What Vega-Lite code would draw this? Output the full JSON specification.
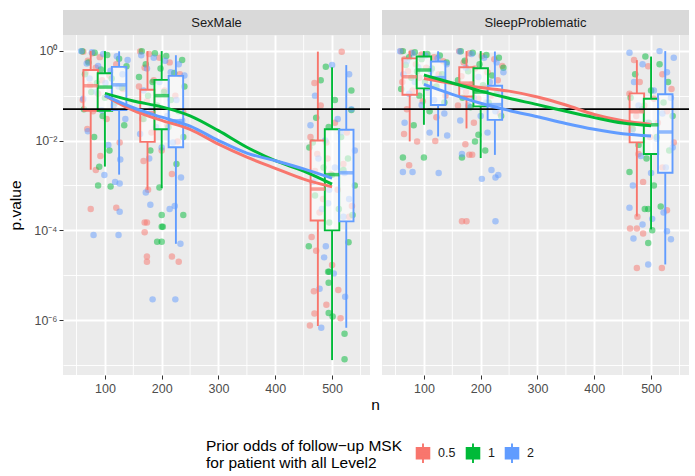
{
"$schema": "https://vega.github.io/schema/vega-lite/v6.json",
"padding": {"left": 8, "top": 10, "right": 5, "bottom": 5},
"background": "#FFFFFF",
"config": {"font": "Liberation Sans", "view": {"stroke": null}},
"datasets": {
"gridX": [{"v":50},{"v":150},{"v":250},{"v":350},{"v":450},{"v":550}],
"ptsSex": [
{"odds":"0.5","n":62,"p":0.95},{"odds":"0.5","n":78,"p":0.88},{"odds":"0.5","n":91,"p":0.72},{"odds":"0.5","n":70,"p":0.6},{"odds":"0.5","n":120,"p":0.5},{"odds":"0.5","n":84,"p":0.42},{"odds":"0.5","n":66,"p":0.33},{"odds":"0.5","n":108,"p":0.28},{"odds":"0.5","n":95,"p":0.22},{"odds":"0.5","n":74,"p":0.17},{"odds":"0.5","n":132,"p":0.14},{"odds":"0.5","n":88,"p":0.11},{"odds":"0.5","n":61,"p":0.08},{"odds":"0.5","n":115,"p":0.06},{"odds":"0.5","n":79,"p":0.045},{"odds":"0.5","n":103,"p":0.03},{"odds":"0.5","n":69,"p":0.018},{"odds":"0.5","n":126,"p":0.009},{"odds":"0.5","n":92,"p":0.0045},{"odds":"0.5","n":84,"p":0.0022},{"odds":"0.5","n":75,"p":0.0003},{"odds":"0.5","n":120,"p":0.00032},
{"odds":"1","n":60,"p":0.97},{"odds":"1","n":82,"p":0.9},{"odds":"1","n":104,"p":0.8},{"odds":"1","n":125,"p":0.66},{"odds":"1","n":71,"p":0.55},{"odds":"1","n":138,"p":0.45},{"odds":"1","n":93,"p":0.38},{"odds":"1","n":65,"p":0.3},{"odds":"1","n":112,"p":0.24},{"odds":"1","n":86,"p":0.19},{"odds":"1","n":130,"p":0.15},{"odds":"1","n":76,"p":0.12},{"odds":"1","n":100,"p":0.09},{"odds":"1","n":118,"p":0.07},{"odds":"1","n":63,"p":0.05},{"odds":"1","n":96,"p":0.035},{"odds":"1","n":134,"p":0.022},{"odds":"1","n":81,"p":0.012},{"odds":"1","n":108,"p":0.006},{"odds":"1","n":90,"p":0.0026},{"odds":"1","n":88,"p":0.001},{"odds":"1","n":110,"p":0.00095},
{"odds":"2","n":58,"p":0.98},{"odds":"2","n":77,"p":0.92},{"odds":"2","n":97,"p":0.85},{"odds":"2","n":121,"p":0.75},{"odds":"2","n":140,"p":0.62},{"odds":"2","n":68,"p":0.52},{"odds":"2","n":88,"p":0.46},{"odds":"2","n":110,"p":0.36},{"odds":"2","n":131,"p":0.3},{"odds":"2","n":73,"p":0.24},{"odds":"2","n":101,"p":0.19},{"odds":"2","n":124,"p":0.16},{"odds":"2","n":85,"p":0.12},{"odds":"2","n":62,"p":0.085},{"odds":"2","n":116,"p":0.062},{"odds":"2","n":94,"p":0.047},{"odds":"2","n":136,"p":0.03},{"odds":"2","n":70,"p":0.016},{"odds":"2","n":106,"p":0.008},{"odds":"2","n":127,"p":0.0038},{"odds":"2","n":99,"p":0.0017},{"odds":"2","n":118,"p":0.0012},{"odds":"2","n":126,"p":0.0011},{"odds":"2","n":80,"p":0.000079},{"odds":"2","n":124,"p":0.000079},{"odds":"2","n":126,"p":0.00026},
{"odds":"0.5","n":162,"p":0.96},{"odds":"0.5","n":178,"p":0.85},{"odds":"0.5","n":196,"p":0.7},{"odds":"0.5","n":214,"p":0.55},{"odds":"0.5","n":170,"p":0.42},{"odds":"0.5","n":232,"p":0.3},{"odds":"0.5","n":186,"p":0.22},{"odds":"0.5","n":160,"p":0.16},{"odds":"0.5","n":205,"p":0.13},{"odds":"0.5","n":224,"p":0.1},{"odds":"0.5","n":174,"p":0.075},{"odds":"0.5","n":192,"p":0.055},{"odds":"0.5","n":238,"p":0.042},{"odds":"0.5","n":166,"p":0.03},{"odds":"0.5","n":210,"p":0.022},{"odds":"0.5","n":182,"p":0.015},{"odds":"0.5","n":228,"p":0.0095},{"odds":"0.5","n":200,"p":0.006},{"odds":"0.5","n":168,"p":0.0035},{"odds":"0.5","n":218,"p":0.0018},{"odds":"0.5","n":176,"p":0.0008},{"odds":"0.5","n":170,"p":0.00015},{"odds":"0.5","n":174,"p":0.00015},{"odds":"0.5","n":170,"p":0.000091},{"odds":"0.5","n":174,"p":0.000026},{"odds":"0.5","n":174,"p":0.00002},{"odds":"0.5","n":218,"p":0.000026},{"odds":"0.5","n":230,"p":0.00002},
{"odds":"1","n":165,"p":0.97},{"odds":"1","n":188,"p":0.88},{"odds":"1","n":208,"p":0.76},{"odds":"1","n":236,"p":0.62},{"odds":"1","n":172,"p":0.5},{"odds":"1","n":198,"p":0.4},{"odds":"1","n":222,"p":0.32},{"odds":"1","n":160,"p":0.26},{"odds":"1","n":184,"p":0.2},{"odds":"1","n":240,"p":0.16},{"odds":"1","n":204,"p":0.12},{"odds":"1","n":176,"p":0.1},{"odds":"1","n":216,"p":0.08},{"odds":"1","n":192,"p":0.06},{"odds":"1","n":230,"p":0.045},{"odds":"1","n":168,"p":0.03},{"odds":"1","n":212,"p":0.02},{"odds":"1","n":238,"p":0.012},{"odds":"1","n":180,"p":0.006},{"odds":"1","n":226,"p":0.003},{"odds":"1","n":196,"p":0.0009},{"odds":"1","n":200,"p":0.00022},{"odds":"1","n":200,"p":0.00012},{"odds":"1","n":202,"p":0.00012},{"odds":"1","n":192,"p":0.000056},{"odds":"1","n":200,"p":0.000056},{"odds":"1","n":238,"p":0.00022},
{"odds":"2","n":164,"p":0.79},{"odds":"2","n":186,"p":0.7},{"odds":"2","n":206,"p":0.6},{"odds":"2","n":230,"p":0.5},{"odds":"2","n":174,"p":0.4},{"odds":"2","n":216,"p":0.33},{"odds":"2","n":240,"p":0.28},{"odds":"2","n":196,"p":0.2},{"odds":"2","n":168,"p":0.13},{"odds":"2","n":226,"p":0.08},{"odds":"2","n":182,"p":0.05},{"odds":"2","n":210,"p":0.035},{"odds":"2","n":236,"p":0.028},{"odds":"2","n":190,"p":0.02},{"odds":"2","n":162,"p":0.014},{"odds":"2","n":220,"p":0.009},{"odds":"2","n":200,"p":0.007},{"odds":"2","n":178,"p":0.004},{"odds":"2","n":234,"p":0.0015},{"odds":"2","n":172,"p":0.0007},{"odds":"2","n":214,"p":0.0003},{"odds":"2","n":180,"p":0.00037},{"odds":"2","n":223,"p":0.00035},{"odds":"2","n":233,"p":0.00005},{"odds":"2","n":184,"p":0.0000029},{"odds":"2","n":224,"p":0.0000029},
{"odds":"0.5","n":517,"p":0.95},{"odds":"0.5","n":469,"p":0.19},{"odds":"0.5","n":480,"p":0.06},{"odds":"0.5","n":505,"p":0.025},{"odds":"0.5","n":462,"p":0.012},{"odds":"0.5","n":490,"p":0.009},{"odds":"0.5","n":474,"p":0.005},{"odds":"0.5","n":520,"p":0.003},{"odds":"0.5","n":498,"p":0.0018},{"odds":"0.5","n":466,"p":0.0012},{"odds":"0.5","n":510,"p":0.0008},{"odds":"0.5","n":484,"p":0.0005},{"odds":"0.5","n":535,"p":0.00035},{"odds":"0.5","n":530,"p":0.0002},{"odds":"0.5","n":478,"p":0.00025},{"odds":"0.5","n":492,"p":0.004},{"odds":"0.5","n":526,"p":0.015},{"odds":"0.5","n":470,"p":0.0021},{"odds":"0.5","n":464,"p":0.000071},{"odds":"0.5","n":472,"p":0.000035},{"odds":"0.5","n":500,"p":0.000017},{"odds":"0.5","n":468,"p":0.0000044},{"odds":"0.5","n":511,"p":0.0000047},{"odds":"0.5","n":490,"p":0.0000022},{"odds":"0.5","n":469,"p":0.0000014},{"odds":"0.5","n":515,"p":0.0000011},{"odds":"0.5","n":461,"p":0.00000076},
{"odds":"1","n":489,"p":0.44},{"odds":"1","n":480,"p":0.22},{"odds":"1","n":534,"p":0.13},{"odds":"1","n":505,"p":0.08},{"odds":"1","n":534,"p":0.048},{"odds":"1","n":472,"p":0.032},{"odds":"1","n":494,"p":0.02},{"odds":"1","n":516,"p":0.012},{"odds":"1","n":460,"p":0.007},{"odds":"1","n":528,"p":0.004},{"odds":"1","n":485,"p":0.0025},{"odds":"1","n":500,"p":0.0017},{"odds":"1","n":540,"p":0.001},{"odds":"1","n":470,"p":0.0006},{"odds":"1","n":512,"p":0.0003},{"odds":"1","n":495,"p":0.00015},{"odds":"1","n":466,"p":0.009},{"odds":"1","n":520,"p":0.0022},{"odds":"1","n":459,"p":0.000044},{"odds":"1","n":529,"p":0.000054},{"odds":"1","n":536,"p":0.00022},{"odds":"1","n":495,"p":0.000012},{"odds":"1","n":493,"p":0.000012},{"odds":"1","n":494,"p":0.0000068},{"odds":"1","n":494,"p":0.00000145},{"odds":"1","n":501,"p":0.0000012},{"odds":"1","n":522,"p":0.0000005},{"odds":"1","n":522,"p":0.000000135},
{"odds":"2","n":500,"p":0.48},{"odds":"2","n":530,"p":0.3},{"odds":"2","n":470,"p":0.1},{"odds":"2","n":534,"p":0.05},{"odds":"2","n":462,"p":0.022},{"odds":"2","n":515,"p":0.015},{"odds":"2","n":488,"p":0.01},{"odds":"2","n":540,"p":0.006},{"odds":"2","n":476,"p":0.004},{"odds":"2","n":505,"p":0.0025},{"odds":"2","n":522,"p":0.0019},{"odds":"2","n":466,"p":0.0012},{"odds":"2","n":495,"p":0.0008},{"odds":"2","n":530,"p":0.0005},{"odds":"2","n":482,"p":0.0003},{"odds":"2","n":493,"p":0.0004},{"odds":"2","n":510,"p":0.03},{"odds":"2","n":472,"p":0.0015},{"odds":"2","n":520,"p":0.0002},{"odds":"2","n":489,"p":0.000044},{"odds":"2","n":486,"p":0.000025},{"odds":"2","n":503,"p":0.000011},{"odds":"2","n":478,"p":0.000005},{"odds":"2","n":523,"p":0.0000033},{"odds":"2","n":481,"p":0.00000068}
],
"ptsSleep": [
{"odds":"0.5","n":60,"p":0.97},{"odds":"0.5","n":78,"p":0.9},{"odds":"0.5","n":96,"p":0.82},{"odds":"0.5","n":118,"p":0.72},{"odds":"0.5","n":66,"p":0.65},{"odds":"0.5","n":134,"p":0.58},{"odds":"0.5","n":86,"p":0.5},{"odds":"0.5","n":104,"p":0.42},{"odds":"0.5","n":72,"p":0.35},{"odds":"0.5","n":126,"p":0.3},{"odds":"0.5","n":92,"p":0.25},{"odds":"0.5","n":62,"p":0.2},{"odds":"0.5","n":112,"p":0.16},{"odds":"0.5","n":80,"p":0.13},{"odds":"0.5","n":138,"p":0.1},{"odds":"0.5","n":98,"p":0.075},{"odds":"0.5","n":70,"p":0.05},{"odds":"0.5","n":122,"p":0.033},{"odds":"0.5","n":65,"p":0.014},{"odds":"0.5","n":88,"p":0.0095},{"odds":"0.5","n":74,"p":0.0028},{"odds":"0.5","n":120,"p":0.0098},
{"odds":"1","n":63,"p":0.98},{"odds":"1","n":84,"p":0.93},{"odds":"1","n":106,"p":0.85},{"odds":"1","n":128,"p":0.78},{"odds":"1","n":74,"p":0.72},{"odds":"1","n":96,"p":0.65},{"odds":"1","n":140,"p":0.55},{"odds":"1","n":68,"p":0.48},{"odds":"1","n":114,"p":0.4},{"odds":"1","n":88,"p":0.35},{"odds":"1","n":132,"p":0.3},{"odds":"1","n":78,"p":0.25},{"odds":"1","n":102,"p":0.2},{"odds":"1","n":122,"p":0.16},{"odds":"1","n":60,"p":0.14},{"odds":"1","n":92,"p":0.1},{"odds":"1","n":136,"p":0.07},{"odds":"1","n":110,"p":0.045},{"odds":"1","n":82,"p":0.022},{"odds":"1","n":63,"p":0.0042},{"odds":"1","n":100,"p":0.0042},
{"odds":"2","n":58,"p":0.97},{"odds":"2","n":80,"p":0.88},{"odds":"2","n":102,"p":0.78},{"odds":"2","n":124,"p":0.68},{"odds":"2","n":70,"p":0.58},{"odds":"2","n":140,"p":0.5},{"odds":"2","n":90,"p":0.43},{"odds":"2","n":112,"p":0.36},{"odds":"2","n":64,"p":0.3},{"odds":"2","n":130,"p":0.25},{"odds":"2","n":84,"p":0.2},{"odds":"2","n":106,"p":0.15},{"odds":"2","n":74,"p":0.11},{"odds":"2","n":118,"p":0.08},{"odds":"2","n":96,"p":0.062},{"odds":"2","n":136,"p":0.04},{"odds":"2","n":66,"p":0.025},{"odds":"2","n":110,"p":0.015},{"odds":"2","n":141,"p":0.013},{"odds":"2","n":63,"p":0.002},{"odds":"2","n":80,"p":0.002},{"odds":"2","n":126,"p":0.0019},
{"odds":"0.5","n":162,"p":0.98},{"odds":"0.5","n":180,"p":0.88},{"odds":"0.5","n":202,"p":0.76},{"odds":"0.5","n":224,"p":0.65},{"odds":"0.5","n":170,"p":0.55},{"odds":"0.5","n":238,"p":0.46},{"odds":"0.5","n":190,"p":0.4},{"odds":"0.5","n":212,"p":0.33},{"odds":"0.5","n":166,"p":0.27},{"odds":"0.5","n":230,"p":0.22},{"odds":"0.5","n":184,"p":0.18},{"odds":"0.5","n":206,"p":0.15},{"odds":"0.5","n":174,"p":0.12},{"odds":"0.5","n":218,"p":0.1},{"odds":"0.5","n":196,"p":0.085},{"odds":"0.5","n":160,"p":0.06},{"odds":"0.5","n":234,"p":0.04},{"odds":"0.5","n":188,"p":0.025},{"odds":"0.5","n":173,"p":0.0083},{"odds":"0.5","n":180,"p":0.0048},{"odds":"0.5","n":185,"p":0.0048},{"odds":"0.5","n":167,"p":0.00016},{"odds":"0.5","n":175,"p":0.00016},
{"odds":"1","n":165,"p":0.97},{"odds":"1","n":186,"p":0.9},{"odds":"1","n":210,"p":0.8},{"odds":"1","n":232,"p":0.7},{"odds":"1","n":172,"p":0.6},{"odds":"1","n":198,"p":0.5},{"odds":"1","n":240,"p":0.42},{"odds":"1","n":178,"p":0.35},{"odds":"1","n":220,"p":0.28},{"odds":"1","n":160,"p":0.22},{"odds":"1","n":204,"p":0.17},{"odds":"1","n":190,"p":0.13},{"odds":"1","n":228,"p":0.11},{"odds":"1","n":168,"p":0.09},{"odds":"1","n":214,"p":0.07},{"odds":"1","n":182,"p":0.055},{"odds":"1","n":236,"p":0.035},{"odds":"1","n":190,"p":0.0095},{"odds":"1","n":196,"p":0.0135},{"odds":"1","n":167,"p":0.0042},{"odds":"1","n":208,"p":0.006},
{"odds":"2","n":163,"p":0.96},{"odds":"2","n":184,"p":0.85},{"odds":"2","n":206,"p":0.7},{"odds":"2","n":228,"p":0.55},{"odds":"2","n":174,"p":0.42},{"odds":"2","n":240,"p":0.33},{"odds":"2","n":196,"p":0.26},{"odds":"2","n":216,"p":0.2},{"odds":"2","n":168,"p":0.16},{"odds":"2","n":234,"p":0.12},{"odds":"2","n":188,"p":0.09},{"odds":"2","n":210,"p":0.07},{"odds":"2","n":178,"p":0.06},{"odds":"2","n":226,"p":0.045},{"odds":"2","n":200,"p":0.035},{"odds":"2","n":164,"p":0.028},{"odds":"2","n":212,"p":0.015},{"odds":"2","n":167,"p":0.005},{"odds":"2","n":202,"p":0.0014},{"odds":"2","n":219,"p":0.0022},{"odds":"2","n":226,"p":0.0015},{"odds":"2","n":231,"p":0.0017},{"odds":"2","n":226,"p":0.00016},
{"odds":"0.5","n":470,"p":0.62},{"odds":"0.5","n":495,"p":0.45},{"odds":"0.5","n":520,"p":0.3},{"odds":"0.5","n":480,"p":0.2},{"odds":"0.5","n":536,"p":0.14},{"odds":"0.5","n":462,"p":0.11},{"odds":"0.5","n":505,"p":0.085},{"odds":"0.5","n":488,"p":0.06},{"odds":"0.5","n":528,"p":0.045},{"odds":"0.5","n":474,"p":0.035},{"odds":"0.5","n":512,"p":0.025},{"odds":"0.5","n":466,"p":0.018},{"odds":"0.5","n":498,"p":0.012},{"odds":"0.5","n":540,"p":0.009},{"odds":"0.5","n":478,"p":0.005},{"odds":"0.5","n":520,"p":0.0025},{"odds":"0.5","n":486,"p":0.0012},{"odds":"0.5","n":476,"p":0.0002},{"odds":"0.5","n":463,"p":0.00011},{"odds":"0.5","n":475,"p":0.00011},{"odds":"0.5","n":486,"p":0.000085},{"odds":"0.5","n":475,"p":0.0000145},{"odds":"0.5","n":519,"p":0.0000145},{"odds":"0.5","n":528,"p":0.00028},
{"odds":"1","n":490,"p":0.74},{"odds":"1","n":515,"p":0.5},{"odds":"1","n":472,"p":0.3},{"odds":"1","n":530,"p":0.2},{"odds":"1","n":500,"p":0.13},{"odds":"1","n":464,"p":0.09},{"odds":"1","n":522,"p":0.07},{"odds":"1","n":484,"p":0.05},{"odds":"1","n":538,"p":0.035},{"odds":"1","n":496,"p":0.025},{"odds":"1","n":468,"p":0.018},{"odds":"1","n":510,"p":0.012},{"odds":"1","n":478,"p":0.008},{"odds":"1","n":532,"p":0.006},{"odds":"1","n":492,"p":0.004},{"odds":"1","n":462,"p":0.002},{"odds":"1","n":505,"p":0.001},{"odds":"1","n":489,"p":0.0003},{"odds":"1","n":495,"p":0.0003},{"odds":"1","n":502,"p":0.0001},{"odds":"1","n":495,"p":0.000052},{"odds":"1","n":517,"p":0.00034},
{"odds":"2","n":515,"p":0.98},{"odds":"2","n":462,"p":0.9},{"odds":"2","n":540,"p":0.7},{"odds":"2","n":485,"p":0.5},{"odds":"2","n":528,"p":0.33},{"odds":"2","n":470,"p":0.2},{"odds":"2","n":505,"p":0.13},{"odds":"2","n":535,"p":0.09},{"odds":"2","n":478,"p":0.06},{"odds":"2","n":520,"p":0.04},{"odds":"2","n":492,"p":0.025},{"odds":"2","n":466,"p":0.016},{"odds":"2","n":510,"p":0.011},{"odds":"2","n":538,"p":0.007},{"odds":"2","n":482,"p":0.0045},{"odds":"2","n":526,"p":0.0025},{"odds":"2","n":500,"p":0.0019},{"odds":"2","n":468,"p":0.001},{"odds":"2","n":462,"p":0.00032},{"odds":"2","n":502,"p":0.00018},{"odds":"2","n":485,"p":0.000135},{"odds":"2","n":469,"p":0.000066},{"odds":"2","n":528,"p":0.000095},{"odds":"2","n":535,"p":0.000063},{"odds":"2","n":522,"p":0.00025},{"odds":"2","n":495,"p":0.0000174}
],
"boxSex": [
{"odds":"0.5","n":100,"x":75,"lo":0.00224,"q1":0.0457,"med":0.166,"q3":0.372,"hi":0.98},
{"odds":"1","n":100,"x":100,"lo":0.00263,"q1":0.0457,"med":0.155,"q3":0.316,"hi":0.98},
{"odds":"2","n":100,"x":125,"lo":0.00174,"q1":0.0479,"med":0.174,"q3":0.437,"hi":0.97},
{"odds":"0.5","n":200,"x":175,"lo":0.000794,"q1":0.00933,"med":0.0417,"q3":0.135,"hi":0.98},
{"odds":"1","n":200,"x":200,"lo":0.000871,"q1":0.0178,"med":0.1,"q3":0.224,"hi":0.98},
{"odds":"2","n":200,"x":225,"lo":0.0000501,"q1":0.00708,"med":0.0275,"q3":0.275,"hi":0.794},
{"odds":"0.5","n":500,"x":475,"lo":7.41e-7,"q1":0.000166,"med":0.000832,"q3":0.01,"hi":0.955},
{"odds":"1","n":500,"x":500,"lo":1.29e-7,"q1":0.0001,"med":0.00174,"q3":0.0178,"hi":0.427},
{"odds":"2","n":500,"x":525,"lo":6.76e-7,"q1":0.000158,"med":0.00191,"q3":0.0174,"hi":0.479}
],
"boxSleep": [
{"odds":"0.5","n":100,"x":75,"lo":0.00955,"q1":0.105,"med":0.263,"q3":0.676,"hi":0.98},
{"odds":"1","n":100,"x":100,"lo":0.0224,"q1":0.145,"med":0.372,"q3":0.741,"hi":0.98},
{"odds":"2","n":100,"x":125,"lo":0.0123,"q1":0.0617,"med":0.251,"q3":0.575,"hi":0.97},
{"odds":"0.5","n":200,"x":175,"lo":0.0186,"q1":0.0955,"med":0.19,"q3":0.427,"hi":0.98},
{"odds":"1","n":200,"x":200,"lo":0.00407,"q1":0.0575,"med":0.12,"q3":0.407,"hi":0.98},
{"odds":"2","n":200,"x":225,"lo":0.00479,"q1":0.0288,"med":0.0631,"q3":0.166,"hi":0.96},
{"odds":"0.5","n":500,"x":475,"lo":0.000204,"q1":0.00912,"med":0.0437,"q3":0.112,"hi":0.617},
{"odds":"1","n":500,"x":500,"lo":0.000105,"q1":0.00501,"med":0.0224,"q3":0.0851,"hi":0.741},
{"odds":"2","n":500,"x":525,"lo":0.0000174,"q1":0.00191,"med":0.0155,"q3":0.107,"hi":0.98}
],
"fitSex": [
{"odds":"0.5","n":100,"p":0.1},{"odds":"0.5","n":150,"p":0.0468},{"odds":"0.5","n":200,"p":0.0282},{"odds":"0.5","n":250,"p":0.0178},{"odds":"0.5","n":300,"p":0.00832},{"odds":"0.5","n":350,"p":0.00427},{"odds":"0.5","n":400,"p":0.0024},{"odds":"0.5","n":450,"p":0.00138},{"odds":"0.5","n":500,"p":0.00093},
{"odds":"1","n":100,"p":0.112},{"odds":"1","n":150,"p":0.0759},{"odds":"1","n":200,"p":0.0562},{"odds":"1","n":250,"p":0.0355},{"odds":"1","n":300,"p":0.0166},{"odds":"1","n":350,"p":0.00708},{"odds":"1","n":400,"p":0.00355},{"odds":"1","n":450,"p":0.00209},{"odds":"1","n":500,"p":0.00107},
{"odds":"2","n":100,"p":0.1},{"odds":"2","n":150,"p":0.0537},{"odds":"2","n":200,"p":0.0331},{"odds":"2","n":250,"p":0.0209},{"odds":"2","n":300,"p":0.01},{"odds":"2","n":350,"p":0.00525},{"odds":"2","n":400,"p":0.00355},{"odds":"2","n":450,"p":0.00234},{"odds":"2","n":500,"p":0.00145}
],
"fitSleep": [
{"odds":"0.5","n":100,"p":0.24},{"odds":"0.5","n":150,"p":0.186},{"odds":"0.5","n":200,"p":0.151},{"odds":"0.5","n":250,"p":0.126},{"odds":"0.5","n":300,"p":0.0933},{"odds":"0.5","n":350,"p":0.0617},{"odds":"0.5","n":400,"p":0.038},{"odds":"0.5","n":450,"p":0.0275},{"odds":"0.5","n":500,"p":0.0229},
{"odds":"1","n":100,"p":0.288},{"odds":"1","n":150,"p":0.191},{"odds":"1","n":200,"p":0.126},{"odds":"1","n":250,"p":0.0871},{"odds":"1","n":300,"p":0.0631},{"odds":"1","n":350,"p":0.0447},{"odds":"1","n":400,"p":0.0324},{"odds":"1","n":450,"p":0.0245},{"odds":"1","n":500,"p":0.0214},
{"odds":"2","n":100,"p":0.178},{"odds":"2","n":150,"p":0.107},{"odds":"2","n":200,"p":0.0676},{"odds":"2","n":250,"p":0.0468},{"odds":"2","n":300,"p":0.0339},{"odds":"2","n":350,"p":0.024},{"odds":"2","n":400,"p":0.0178},{"odds":"2","n":450,"p":0.0141},{"odds":"2","n":500,"p":0.0126}
]
},
"resolve": {"scale": {"stroke": "shared", "fill": "shared"}},
"spacing": 1,
"hconcat": [
{"vconcat": [
  {"width": 307, "height": 25, "view": {"fill": "#D9D9D9", "stroke": null},
   "data": {"values": [{"label": "SexMale"}]},
   "mark": {"type": "text", "fontSize": 13, "color": "#1A1A1A"},
   "encoding": {"text": {"field": "label", "type": "nominal"}}},
  {"width": 307, "height": 340, "view": {"fill": "#EBEBEB", "stroke": null},
   "layer": [
    {"data": {"name": "gridX"}, "mark": {"type": "rule", "color": "#FFFFFF", "strokeWidth": 0.9},
     "encoding": {"x": {"field": "v", "type": "quantitative", "title": "n"}}},
    {"data": {"name": "ptsSex"}, "mark": {"type": "circle", "size": 42, "opacity": 0.5},
     "encoding": {
      "x": {"field": "n", "type": "quantitative", "title": "n", "scale": {"domain": [35, 558], "nice": false, "zero": false},
        "axis": {"values": [100,200,300,400,500], "labelFontSize": 12.5, "labelColor": "#4D4D4D", "labelPadding": 3, "labelFlush": false, "tickColor": "#333333", "tickSize": 4, "domain": false, "grid": true, "gridColor": "#FFFFFF", "gridWidth": 1.9, "titleFontSize": 15.5, "titleFontWeight": "normal", "titleColor": "#000000", "titleX": 312, "titleY": 22, "titleBaseline": "top", "titleAlign": "center"}},
      "y": {"field": "p", "type": "quantitative", "title": "p.value", "scale": {"type": "log", "domain": [6e-8, 2.24], "nice": false},
        "axis": {"values": [1, 0.1, 0.01, 0.001, 0.0001, 0.00001, 0.000001, 0.0000001], "labelExpr": "round(log(datum.value)/LN10) == 0 ? '10⁰' : round(log(datum.value)/LN10) == -2 ? '10⁻²' : round(log(datum.value)/LN10) == -4 ? '10⁻⁴' : round(log(datum.value)/LN10) == -6 ? '10⁻⁶' : ''", "labelFontSize": 12.5, "labelColor": "#4D4D4D", "labelPadding": 2, "labelOverlap": false, "tickColor": "#333333", "tickSize": 4, "tickOpacity": {"condition": {"test": "round(log(datum.value)/LN10) % 2 == 0", "value": 1}, "value": 0}, "domain": false, "grid": true, "gridColor": "#FFFFFF", "gridWidth": {"condition": {"test": "round(log(datum.value)/LN10) % 2 == 0", "value": 1.9}, "value": 0.9}, "titleFontSize": 15.5, "titleFontWeight": "normal", "titleColor": "#000000", "titlePadding": 10}},
      "fill": {"field": "odds", "type": "nominal", "scale": {"domain": ["0.5", "1", "2"], "range": ["#F8766D", "#00BA38", "#619CFF"]},
        "legend": {"title": ["Prior odds of follow−up MSK", "for patient with all Level2"], "orient": "none", "legendX": 143, "legendY": 432, "direction": "horizontal", "titleOrient": "left", "titleLimit": 400, "titleFontSize": 15.5, "titleFontWeight": "normal", "titleColor": "#000000", "titleLineHeight": 17, "titlePadding": 10, "labelFontSize": 12.5, "labelColor": "#1A1A1A", "labelOffset": 4, "columnPadding": 6, "symbolType": "M-0.65,-0.55H0.65V0.55H-0.65Z M-0.65,0H0.65 M0,-0.55V-1 M0,0.55V1", "symbolSize": 380, "symbolStrokeWidth": 1.9, "symbolOpacity": 1,
          "encode": {"symbols": {"update": {"fill": {"value": "#FFFFFF"}, "opacity": {"value": 1}, "strokeWidth": {"value": 1.9}}}}}}}},
    {"data": {"name": "boxSex"}, "mark": {"type": "rule", "strokeWidth": 1.9},
     "encoding": {"x": {"field": "x", "type": "quantitative", "title": "n"}, "y": {"field": "lo", "type": "quantitative", "title": "p.value"}, "y2": {"field": "q1"},
      "stroke": {"field": "odds", "type": "nominal", "scale": {"domain": ["0.5", "1", "2"], "range": ["#F8766D", "#00BA38", "#619CFF"]},
        "legend": {"title": ["Prior odds of follow−up MSK", "for patient with all Level2"], "orient": "none", "legendX": 143, "legendY": 432, "direction": "horizontal", "titleOrient": "left", "titleLimit": 400, "titleFontSize": 15.5, "titleFontWeight": "normal", "titleColor": "#000000", "titleLineHeight": 17, "titlePadding": 10, "labelFontSize": 12.5, "labelColor": "#1A1A1A", "labelOffset": 4, "columnPadding": 6, "symbolType": "M-0.65,-0.55H0.65V0.55H-0.65Z M-0.65,0H0.65 M0,-0.55V-1 M0,0.55V1", "symbolSize": 380, "symbolStrokeWidth": 1.9, "symbolOpacity": 1,
          "encode": {"symbols": {"update": {"fill": {"value": "#FFFFFF"}, "opacity": {"value": 1}, "strokeWidth": {"value": 1.9}}}}}}}},
    {"data": {"name": "boxSex"}, "mark": {"type": "rule", "strokeWidth": 1.9},
     "encoding": {"x": {"field": "x", "type": "quantitative", "title": "n"}, "y": {"field": "q3", "type": "quantitative", "title": "p.value"}, "y2": {"field": "hi"},
      "stroke": {"field": "odds", "type": "nominal", "scale": {"domain": ["0.5", "1", "2"], "range": ["#F8766D", "#00BA38", "#619CFF"]}}}},
    {"data": {"name": "boxSex"}, "mark": {"type": "bar", "orient": "vertical", "size": 14.5, "fill": "#FFFFFF", "fillOpacity": 0.6, "strokeWidth": 1.9},
     "encoding": {"x": {"field": "x", "type": "quantitative", "title": "n"}, "y": {"field": "q1", "type": "quantitative", "title": "p.value"}, "y2": {"field": "q3"},
      "stroke": {"field": "odds", "type": "nominal", "scale": {"domain": ["0.5", "1", "2"], "range": ["#F8766D", "#00BA38", "#619CFF"]}}}},
    {"data": {"name": "boxSex"}, "mark": {"type": "tick", "orient": "horizontal", "size": 14.5, "thickness": 3.5},
     "encoding": {"x": {"field": "x", "type": "quantitative", "title": "n"}, "y": {"field": "med", "type": "quantitative", "title": "p.value"},
      "fill": {"field": "odds", "type": "nominal", "scale": {"domain": ["0.5", "1", "2"], "range": ["#F8766D", "#00BA38", "#619CFF"]}}}},
    {"data": {"values": [{}]}, "mark": {"type": "rule", "color": "#000000", "strokeWidth": 1.9},
     "encoding": {"y": {"datum": 0.05, "type": "quantitative"}}},
    {"data": {"name": "fitSex"}, "mark": {"type": "line", "strokeWidth": 3, "interpolate": "monotone"},
     "encoding": {"x": {"field": "n", "type": "quantitative", "title": "n"}, "y": {"field": "p", "type": "quantitative", "title": "p.value"},
      "stroke": {"field": "odds", "type": "nominal", "scale": {"domain": ["0.5", "1", "2"], "range": ["#F8766D", "#00BA38", "#619CFF"]}}}}
   ]}
 ], "spacing": 0, "bounds": "flush"},
{"vconcat": [
  {"width": 307, "height": 25, "view": {"fill": "#D9D9D9", "stroke": null},
   "data": {"values": [{"label": "SleepProblematic"}]},
   "mark": {"type": "text", "fontSize": 13, "color": "#1A1A1A"},
   "encoding": {"text": {"field": "label", "type": "nominal"}}},
  {"width": 307, "height": 340, "view": {"fill": "#EBEBEB", "stroke": null},
   "layer": [
    {"data": {"name": "gridX"}, "mark": {"type": "rule", "color": "#FFFFFF", "strokeWidth": 0.9},
     "encoding": {"x": {"field": "v", "type": "quantitative", "title": null}}},
    {"data": {"name": "ptsSleep"}, "mark": {"type": "circle", "size": 42, "opacity": 0.5},
     "encoding": {
      "x": {"field": "n", "type": "quantitative", "title": null, "scale": {"domain": [35, 558], "nice": false, "zero": false},
        "axis": {"values": [100,200,300,400,500], "labelFontSize": 12.5, "labelColor": "#4D4D4D", "labelPadding": 3, "labelFlush": false, "tickColor": "#333333", "tickSize": 4, "domain": false, "grid": true, "gridColor": "#FFFFFF", "gridWidth": 1.9, "title": null}},
      "y": {"field": "p", "type": "quantitative", "title": null, "scale": {"type": "log", "domain": [6e-8, 2.24], "nice": false},
        "axis": {"values": [1, 0.1, 0.01, 0.001, 0.0001, 0.00001, 0.000001, 0.0000001], "labels": false, "ticks": false, "domain": false, "grid": true, "gridColor": "#FFFFFF", "gridWidth": {"condition": {"test": "round(log(datum.value)/LN10) % 2 == 0", "value": 1.9}, "value": 0.9}, "title": null}},
      "fill": {"field": "odds", "type": "nominal", "scale": {"domain": ["0.5", "1", "2"], "range": ["#F8766D", "#00BA38", "#619CFF"]}}}},
    {"data": {"name": "boxSleep"}, "mark": {"type": "rule", "strokeWidth": 1.9},
     "encoding": {"x": {"field": "x", "type": "quantitative", "title": null}, "y": {"field": "lo", "type": "quantitative", "title": null}, "y2": {"field": "q1"},
      "stroke": {"field": "odds", "type": "nominal", "scale": {"domain": ["0.5", "1", "2"], "range": ["#F8766D", "#00BA38", "#619CFF"]}}}},
    {"data": {"name": "boxSleep"}, "mark": {"type": "rule", "strokeWidth": 1.9},
     "encoding": {"x": {"field": "x", "type": "quantitative", "title": null}, "y": {"field": "q3", "type": "quantitative", "title": null}, "y2": {"field": "hi"},
      "stroke": {"field": "odds", "type": "nominal", "scale": {"domain": ["0.5", "1", "2"], "range": ["#F8766D", "#00BA38", "#619CFF"]}}}},
    {"data": {"name": "boxSleep"}, "mark": {"type": "bar", "orient": "vertical", "size": 14.5, "fill": "#FFFFFF", "fillOpacity": 0.6, "strokeWidth": 1.9},
     "encoding": {"x": {"field": "x", "type": "quantitative", "title": null}, "y": {"field": "q1", "type": "quantitative", "title": null}, "y2": {"field": "q3"},
      "stroke": {"field": "odds", "type": "nominal", "scale": {"domain": ["0.5", "1", "2"], "range": ["#F8766D", "#00BA38", "#619CFF"]}}}},
    {"data": {"name": "boxSleep"}, "mark": {"type": "tick", "orient": "horizontal", "size": 14.5, "thickness": 3.5},
     "encoding": {"x": {"field": "x", "type": "quantitative", "title": null}, "y": {"field": "med", "type": "quantitative", "title": null},
      "fill": {"field": "odds", "type": "nominal", "scale": {"domain": ["0.5", "1", "2"], "range": ["#F8766D", "#00BA38", "#619CFF"]}}}},
    {"data": {"values": [{}]}, "mark": {"type": "rule", "color": "#000000", "strokeWidth": 1.9},
     "encoding": {"y": {"datum": 0.05, "type": "quantitative", "title": null}}},
    {"data": {"name": "fitSleep"}, "mark": {"type": "line", "strokeWidth": 3, "interpolate": "monotone"},
     "encoding": {"x": {"field": "n", "type": "quantitative", "title": null}, "y": {"field": "p", "type": "quantitative", "title": null},
      "stroke": {"field": "odds", "type": "nominal", "scale": {"domain": ["0.5", "1", "2"], "range": ["#F8766D", "#00BA38", "#619CFF"]}}}}
   ]}
 ], "spacing": 0, "bounds": "flush"}
]
}
